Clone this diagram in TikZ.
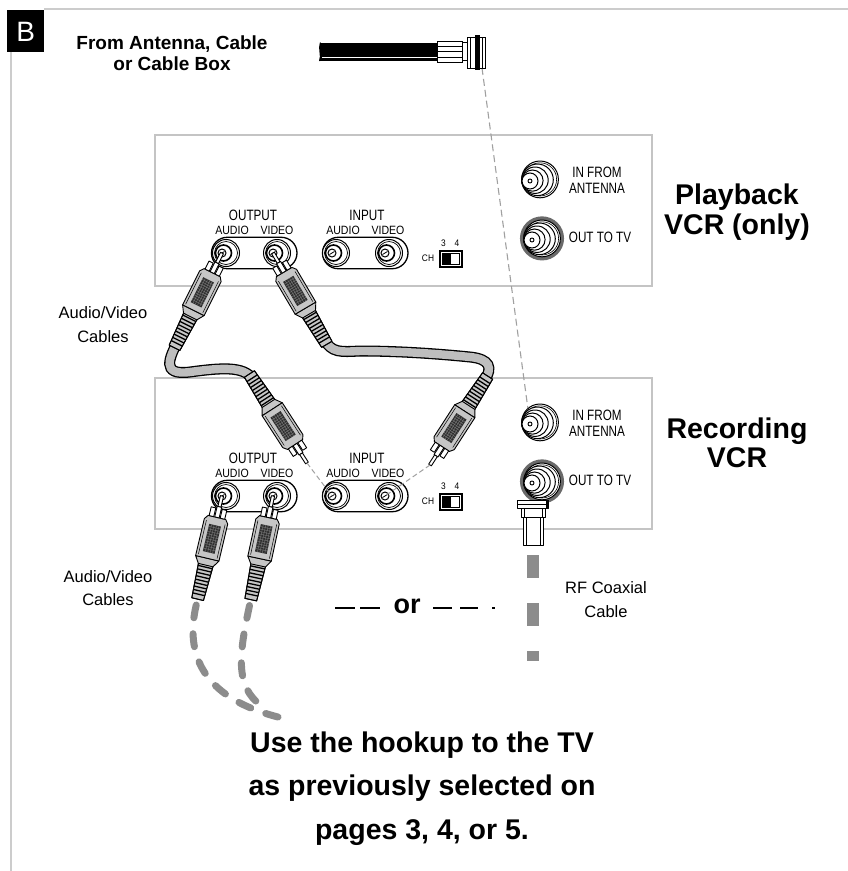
\documentclass[tikz,border=0pt]{standalone}
\usepackage{fontspec}
\setmainfont{Liberation Sans}
\newfontfamily\narrowfont[FakeStretch=0.78]{Liberation Sans}
\newfontfamily\semifont[FakeStretch=0.88]{Liberation Sans}
\usetikzlibrary{calc}
\pgfdeclarelayer{back}
\pgfdeclarelayer{cab}
\pgfsetlayers{back,cab,main}
\definecolor{framegray}{HTML}{CCCCCC}
\definecolor{panelgray}{HTML}{C4C4C4}
\definecolor{plugfill}{HTML}{C6C6C6}
\definecolor{cablefill}{HTML}{BEBEBE}
\definecolor{grilledark}{HTML}{2E2E2E}
\definecolor{grillelite}{HTML}{7A7A7A}
\definecolor{heavydash}{HTML}{8C8C8C}
\definecolor{lightdash}{HTML}{A0A0A0}
\definecolor{ringgray}{HTML}{6A6A6A}
\tikzset{
  framel/.style={draw=framegray, line width=2pt},
  panelbox/.style={draw=panelgray, line width=1.6pt},
  jackline/.style={draw=black, line width=1pt},
  plugline/.style={draw=black, line width=0.9pt, line join=round},
  stadiumbox/.style={draw=black, line width=1.3pt, rounded corners=15.7pt},
  txtreg/.style={inner sep=0pt, font=\fontsize{16.5}{24}\selectfont, align=center},
  txthead/.style={inner sep=0pt, font=\fontsize{28.5}{30}\selectfont\bfseries, align=center},
  txtnarrow/.style={inner sep=0pt, font=\narrowfont\fontsize{15}{16}\selectfont, align=center},
  txtsmall/.style={inner sep=0pt, font=\semifont\fontsize{12}{13}\selectfont},
  txttiny/.style={inner sep=0pt, font=\semifont\fontsize{9.5}{10}\selectfont},
  cableout/.style={draw=black, line width=11pt},
  cablein/.style={draw=cablefill, line width=8.4pt},
  thindashed/.style={draw=lightdash, line width=1pt, dash pattern=on 5pt off 3pt},
  antdashed/.style={draw=lightdash, line width=1.1pt, dash pattern=on 7pt off 4pt},
  fatdashed/.style={draw=heavydash, line width=7pt, line cap=round, dash pattern=on 13pt off 16pt},
  coaxdashed/.style={draw=heavydash, line width=12pt, dash pattern=on 23pt off 25pt},
  ordash/.style={draw=black, line width=1.1pt},
  rcaplug/.pic={
    % strain relief
    \draw[plugline, fill=plugfill] (-7.5,70) -- (-6,106) -- (6,106) -- (7.5,70) -- cycle;
    \begin{scope}
      \clip (-7.5,70) -- (-6,106) -- (6,106) -- (7.5,70) -- cycle;
      \foreach \b in {73,76.5,...,104} {\draw[line width=1.3pt] (-8,\b) -- (8,\b);}
    \end{scope}
    \draw[plugline] (-7.5,70) -- (-6,106) -- (6,106) -- (7.5,70) -- cycle;
    % taper
    \draw[plugline, fill=plugfill] (-12,64) -- (-7.5,71) -- (7.5,71) -- (12,64) -- cycle;
    % body
    \draw[plugline, fill=plugfill] (-9,22) -- (-12,26) -- (-12,64) -- (12,64) -- (12,26) -- (9,22) -- cycle;
    \draw[line width=0.5pt] (-9.6,27) -- (-9.6,62) (9.6,27) -- (9.6,62);
    % grille
    \fill[grilledark] (-6,30) rectangle (6,58);
    \foreach \b in {32.5,35,...,56} {\draw[grillelite, line width=0.4pt] (-6,\b) -- (6,\b);}
    \foreach \a in {-3.5,-1,1.5,4} {\draw[grillelite, line width=0.4pt] (\a,30) -- (\a,58);}
    % prongs
    \draw[plugline, fill=white] (-8,13) rectangle (-3.3,22);
    \draw[plugline, fill=white] (3.3,13) rectangle (8,22);
    \draw[plugline, fill=white] (-2.3,11) rectangle (2.3,22);
    % pin
    \draw[plugline, fill=white] (-1.6,0) rectangle (1.6,11);
    \coordinate (-tip) at (0,0);
    \coordinate (-in) at (0,100);
    \coordinate (-end) at (0,106);
    \coordinate (-d0) at (0,112);
    \coordinate (-c1) at (0,116);
    \coordinate (-d1) at (0,160);
  },
  rcajack/.pic={
    \draw[jackline, fill=white] (0,0) circle (13.5pt);
    \draw[line width=0.7pt] (0,0) circle (11.5pt);
    \draw[line width=1.6pt, fill=white] (-2.5,0) circle (8pt);
    \draw[line width=1pt, fill=white] (-4,0) circle (4pt);
    \draw[line width=0.8pt] (-6.5,1.5) -- (-1.5,-1.5);
    \coordinate (-pin) at (-4,0);
  },
  coaxjack/.pic={
    \draw[jackline, fill=white] (10,-1.6) circle (18.4pt);
    \draw[line width=0.6pt] (10,-1.6) circle (16.6pt);
    \draw[jackline, fill=white] (7.5,-1.2) circle (15.8pt);
    \draw[jackline, fill=white] (5,-0.8) circle (13.2pt);
    \draw[jackline, fill=white] (2.5,-0.4) circle (10.6pt);
    \draw[jackline, fill=white] (0,0) circle (8pt);
    \draw[line width=0.9pt] (0,0) circle (2pt);
    \coordinate (-pin) at (0,0);
  },
  fplug/.pic={
    \draw[plugline, fill=white] (-10,17) rectangle (10,45);
    \draw[line width=0.6pt] (-7,17) -- (-7,45) (7,17) -- (7,45);
    \draw[plugline, fill=white] (-12,8) rectangle (12,17);
    \draw[plugline, fill=white] (-15.5,0) rectangle (15.5,8);
    \draw[line width=0.6pt] (-15.5,4) -- (15.5,4) (-9,8) -- (-9,17) (9,8) -- (9,17);
    \fill (12.5,0) rectangle (15.5,8);
    \coordinate (-top) at (0,0);
    \coordinate (-cab) at (0,55);
    \coordinate (-cabend) at (0,161);
  }
}
\newcommand{\vcrpanel}[2]{%
  \begin{scope}[shift={(0,#2)}]
    \begin{pgfonlayer}{back}
      \draw[panelbox] (155,135) rectangle (652,286);
    \end{pgfonlayer}
    \node[txtnarrow] (#1-outlbl) at (253,215.5) {OUTPUT};
    \node[txtsmall] (#1-oalbl) at (232,230) {AUDIO};
    \node[txtsmall] (#1-ovlbl) at (277,230) {VIDEO};
    \node[txtnarrow] (#1-inlbl) at (367,215.5) {INPUT};
    \node[txtsmall] (#1-ialbl) at (343,230) {AUDIO};
    \node[txtsmall] (#1-ivlbl) at (388,230) {VIDEO};
    \draw[stadiumbox, fill=white] (211.5,237.3) rectangle (297,268.7);
    \draw[stadiumbox, fill=white] (322.5,237.3) rectangle (408,268.7);
    \pic (#1-oa) at (226,253) {rcajack};
    \pic (#1-ov) at (277,253) {rcajack};
    \pic (#1-ia) at (336,253) {rcajack};
    \pic (#1-iv) at (389,253) {rcajack};
    \node[txttiny] (#1-ch) at (428,258.5) {CH};
    \node[txttiny] (#1-n3) at (443.5,243.5) {3};
    \node[txttiny] (#1-n4) at (457,243.5) {4};
    \draw[line width=1.1pt] (440,251) rectangle (462,267);
    \draw[line width=0.6pt] (442.5,253.5) rectangle (459.5,264.5);
    \fill (442.5,253.5) rectangle (451,264.5);
    \pic (#1-ant) at (530,181) {coaxjack};
    \draw[draw=ringgray, line width=3.5pt] (542,238.4) circle (20.3pt);
    \pic (#1-tv) at (532,240) {coaxjack};
    \node[txtnarrow] (#1-antlbl) at (597,180) {IN FROM\\ANTENNA};
    \node[txtnarrow] (#1-tvlbl) at (600,237) {OUT TO TV};
  \end{scope}
}
\begin{document}
\begin{tikzpicture}[x=1pt, y=-1pt]
\useasboundingbox (0,0) rectangle (848,871);
% frame
\draw[framel] (44,9) -- (848,9);
\draw[framel] (10.7,52) -- (10.7,871);
\fill[black] (7,10) rectangle (44.3,52);
\node[inner sep=0pt, text=white, font=\fontsize{28}{28}\selectfont] (blabel) at (25.7,31.5) {B};
% antenna text
\node[inner sep=0pt, font=\fontsize{19}{21}\selectfont\bfseries, align=center] (antlabel) at (172,53) {From Antenna, Cable\\or Cable Box};
% antenna cable and connector
\fill[black] (320,43) rectangle (438,60.5);
\draw[white, line width=0.8pt] (322,57) -- (438,57);
\draw[line width=1pt] (320.5,42.5) .. controls (318,50) and (322,55) .. (319.5,61);
\draw[jackline, fill=white] (437,41) rectangle (462,62);
\draw[line width=0.7pt] (437,46) -- (462,46) (437,51.5) -- (462,51.5) (437,57) -- (462,57);
\draw[jackline, fill=white] (462,42) rectangle (467,60);
\draw[jackline, fill=white] (467,37) rectangle (485,68);
\draw[line width=0.7pt] (470.5,37) -- (470.5,68) (482.5,37) -- (482.5,68);
\fill (475,35) rectangle (479.5,70);
\coordinate (antend) at (482,68);
% panels
\vcrpanel{up}{0}
\vcrpanel{lo}{243}
% side labels
\node[txthead] (playlbl) at (737,212) {Playback\\VCR (only)};
\node[txthead, font=\fontsize{28.5}{29}\selectfont\bfseries] (reclbl) at (737,442.5) {Recording\\VCR};
\node[txtreg] (av1) at (103,325) {Audio/Video\\Cables};
\node[txtreg, font=\fontsize{16.5}{23}\selectfont] (av2) at (108,588.5) {Audio/Video\\Cables};
\node[txtreg] (rflbl) at (606,600) {RF Coaxial\\Cable};
% antenna dashed line
\begin{pgfonlayer}{cab}
  \draw[antdashed] (antend) -- (lo-ant-pin);
\end{pgfonlayer}
% plugs
\pic[rotate=-26.6] (pa) at (up-oa-pin) {rcaplug};
\pic[rotate=30.5] (pb) at (up-ov-pin) {rcaplug};
\pic[rotate=212.9] (pc) at (307,463) {rcaplug};
\pic[rotate=147.1] (pd) at (430,465) {rcaplug};
\pic[rotate=-13.3] (pe) at (lo-oa-pin) {rcaplug};
\pic[rotate=-12.1] (pf) at (lo-ov-pin) {rcaplug};
% cables between plugs
\begin{pgfonlayer}{cab}
  \draw[cableout] (pa-in) .. controls (pa-c1) and (160,376) .. (190,372) .. controls (220,368) and (pc-c1) .. (pc-in);
  \draw[cablein] (pa-in) .. controls (pa-c1) and (160,376) .. (190,372) .. controls (220,368) and (pc-c1) .. (pc-in);
  \draw[cableout] (pb-in) .. controls (pb-c1) and (340,352) .. (360,351) .. controls (400,351) and (440,354) .. (470,357) .. controls (490,359) and (pd-c1) .. (pd-in);
  \draw[cablein] (pb-in) .. controls (pb-c1) and (340,352) .. (360,351) .. controls (400,351) and (440,354) .. (470,357) .. controls (490,359) and (pd-c1) .. (pd-in);
\end{pgfonlayer}
% dashed insert guides
\draw[thindashed] (pc-tip) -- (lo-ia-pin);
\draw[thindashed] (pd-tip) -- (lo-iv-pin);
% lower output cables (dashed)
\coordinate (avend1) at (278,717);
\coordinate (avend2) at (262,706);
\draw[fatdashed] (pe-d0) .. controls (pe-d1) and (200,697) .. (avend1);
\draw[fatdashed] (pf-d0) .. controls (pf-d1) and (234,687) .. (avend2);
% RF plug and coax
\pic (fp) at (533,500) {fplug};
\draw[coaxdashed] (fp-cab) -- (fp-cabend);
% or
\node[inner sep=0pt, font=\fontsize{27}{27}\selectfont\bfseries] (orlbl) at (407,606) {or};
\draw[ordash] (335,608) -- (355,608) (360,608) -- (380,608);
\draw[ordash] (433,608) -- (452,608) (460,608) -- (478,608) (492,608) -- (495,608);
% bottom text
\node[inner sep=0pt, font=\fontsize{28.5}{43.5}\selectfont\bfseries, align=center] (bottomlbl) at (422,788.5) {Use the hookup to the TV\\as previously selected on\\pages 3, 4, or 5.};
\end{tikzpicture}
\end{document}
